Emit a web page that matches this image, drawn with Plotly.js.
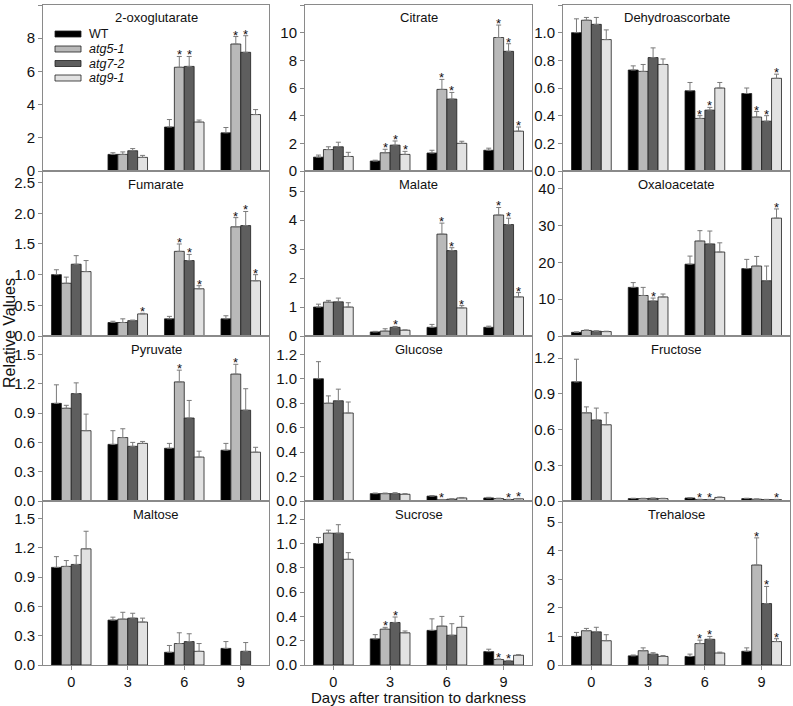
<!DOCTYPE html>
<html><head><meta charset="utf-8">
<script src="https://cdn.plot.ly/plotly-3.0.1.min.js"></script>
<style>html,body{margin:0;padding:0;background:#fff}#chart{width:793px;height:706px}</style>
</head><body><div id="chart"></div>
<script>
// ---- data (rows = genotypes WT, atg5-1, atg7-2, atg9-1; columns = days) ----
const days = [0, 3, 6, 9];
const genotypes = ['WT', 'atg5-1', 'atg7-2', 'atg9-1'];
const genotypeLabels = ['WT', '<i>atg5-1</i>', '<i>atg7-2</i>', '<i>atg9-1</i>'];
const dayLabels = ['0', '3', '6', '9'];

const oxoglutarateMean = [[null,1.0,2.65,2.3],[null,1.0,6.25,7.65],[null,1.22,6.3,7.15],[null,0.82,2.95,3.4]];
const oxoglutarateErr  = [[null,0.1,0.45,0.32],[null,0.15,0.65,0.45],[null,0.13,0.6,1.0],[null,0.12,0.12,0.3]];
const oxoglutarateSig  = [[0,0,0,0],[0,0,1,1],[0,0,1,1],[0,0,0,0]];

const citrateMean = [[1.0,0.72,1.3,1.5],[1.55,1.32,5.9,9.65],[1.75,1.87,5.2,8.65],[1.05,1.2,2.0,2.88]];
const citrateErr  = [[0.15,0.06,0.2,0.15],[0.2,0.25,0.72,0.9],[0.33,0.3,0.48,0.55],[0.3,0.22,0.15,0.3]];
const citrateSig  = [[0,0,0,0],[0,1,1,1],[0,1,1,1],[0,1,0,1]];

const dehydroascorbateMean = [[1.0,0.73,0.58,0.56],[1.09,0.72,0.38,0.39],[1.06,0.82,0.44,0.36],[0.95,0.77,0.60,0.67]];
const dehydroascorbateErr  = [[0.1,0.03,0.06,0.04],[0.02,0.05,0.02,0.04],[0.05,0.07,0.02,0.04],[0.07,0.04,0.04,0.03]];
const dehydroascorbateSig  = [[0,0,0,0],[0,0,1,1],[0,0,1,1],[0,0,0,1]];

const fumarateMean = [[1.0,0.22,0.28,0.28],[0.86,0.22,1.38,1.78],[1.17,0.25,1.23,1.8],[1.05,0.36,0.77,0.9]];
const fumarateErr  = [[0.08,0.02,0.04,0.05],[0.1,0.06,0.12,0.15],[0.14,0.01,0.1,0.23],[0.18,0.01,0.05,0.1]];
const fumarateSig  = [[0,0,0,0],[0,0,1,1],[0,0,1,1],[0,1,1,1]];

const malateMean = [[1.0,0.14,0.3,0.3],[1.17,0.17,3.52,4.18],[1.18,0.3,2.95,3.85],[1.0,0.2,0.97,1.35]];
const malateErr  = [[0.1,0.02,0.1,0.04],[0.06,0.08,0.38,0.26],[0.13,0.03,0.1,0.22],[0.15,0.01,0.08,0.15]];
const malateSig  = [[0,0,0,0],[0,0,1,1],[0,1,1,1],[0,0,1,1]];

const oxaloacetateMean = [[1.0,13.2,19.5,18.3],[1.5,11.0,25.8,19.0],[1.3,9.5,25.0,15.0],[1.2,10.6,22.8,32.0]];
const oxaloacetateErr  = [[0.1,1.3,2.2,2.5],[0.15,2.2,2.8,2.6],[0.1,0.8,3.5,4.0],[0.1,0.8,2.5,2.5]];
const oxaloacetateSig  = [[0,0,0,0],[0,0,0,0],[0,1,0,0],[0,0,0,1]];

const pyruvateMean = [[1.0,0.58,0.54,0.52],[0.95,0.65,1.22,1.3],[1.1,0.56,0.85,0.93],[0.72,0.59,0.45,0.5]];
const pyruvateErr  = [[0.19,0.14,0.05,0.07],[0.03,0.09,0.12,0.1],[0.11,0.04,0.18,0.22],[0.17,0.02,0.06,0.05]];
const pyruvateSig  = [[0,0,0,0],[0,0,1,1],[0,0,0,0],[0,0,0,0]];

const glucoseMean = [[1.0,0.06,0.04,0.025],[0.8,0.06,0.01,0.02],[0.82,0.06,0.015,0.012],[0.72,0.055,0.025,0.018]];
const glucoseErr  = [[0.14,0.005,0.005,0.005],[0.06,0.005,0.003,0.003],[0.095,0.008,0.003,0.002],[0.09,0.005,0.004,0.003]];
const glucoseSig  = [[0,0,0,0],[0,0,1,0],[0,0,0,1],[0,0,0,1]];

const fructoseMean = [[1.0,0.02,0.025,0.02],[0.74,0.02,0.012,0.015],[0.68,0.022,0.012,0.012],[0.64,0.02,0.03,0.012]];
const fructoseErr  = [[0.19,0.003,0.003,0.003],[0.05,0.003,0.003,0.002],[0.1,0.003,0.002,0.002],[0.1,0.003,0.004,0.002]];
const fructoseSig  = [[0,0,0,0],[0,0,1,0],[0,0,1,0],[0,0,0,1]];

const maltoseMean = [[1.0,0.46,0.13,0.17],[1.01,0.47,0.22,null],[1.03,0.48,0.24,0.14],[1.19,0.44,0.14,null]];
const maltoseErr  = [[0.11,0.03,0.07,0.07],[0.06,0.07,0.11,null],[0.09,0.05,0.08,0.09],[0.18,0.04,0.08,null]];
const maltoseSig  = [[0,0,0,0],[0,0,0,0],[0,0,0,0],[0,0,0,0]];

const sucroseMean = [[1.0,0.215,0.285,0.11],[1.085,0.295,0.32,0.045],[1.085,0.35,0.245,0.033],[0.87,0.265,0.31,0.08]];
const sucroseErr  = [[0.05,0.035,0.095,0.02],[0.025,0.015,0.08,0.005],[0.07,0.045,0.095,0.005],[0.055,0.015,0.09,0.005]];
const sucroseSig  = [[0,0,0,0],[0,1,0,1],[0,1,0,1],[0,0,0,0]];

const trehaloseMean = [[1.0,0.32,0.3,0.48],[1.2,0.5,0.75,3.5],[1.16,0.38,0.9,2.15],[0.85,0.3,0.42,0.82]];
const trehaloseErr  = [[0.14,0.03,0.08,0.12],[0.08,0.1,0.12,0.95],[0.16,0.05,0.1,0.6],[0.21,0.03,0.03,0.1]];
const trehaloseSig  = [[0,0,0,0],[0,0,1,1],[0,0,1,1],[0,0,0,1]];

// ---- panel setup (layout only) ----
const panels = [
  {title:'2-oxoglutarate', mean:oxoglutarateMean, err:oxoglutarateErr, sig:oxoglutarateSig, range:[0,10], dtick:2, fmt:'d'},
  {title:'Citrate', mean:citrateMean, err:citrateErr, sig:citrateSig, range:[0,12], dtick:2, fmt:'d'},
  {title:'Dehydroascorbate', mean:dehydroascorbateMean, err:dehydroascorbateErr, sig:dehydroascorbateSig, range:[0,1.2], dtick:0.2, fmt:'.1f'},
  {title:'Fumarate', mean:fumarateMean, err:fumarateErr, sig:fumarateSig, range:[0,2.69], dtick:0.5, fmt:'.1f'},
  {title:'Malate', mean:malateMean, err:malateErr, sig:malateSig, range:[0,5.7], dtick:1, fmt:'d'},
  {title:'Oxaloacetate', mean:oxaloacetateMean, err:oxaloacetateErr, sig:oxaloacetateSig, range:[0,44.8], dtick:10, fmt:'d'},
  {title:'Pyruvate', mean:pyruvateMean, err:pyruvateErr, sig:pyruvateSig, range:[0,1.69], dtick:0.3, fmt:'.1f'},
  {title:'Glucose', mean:glucoseMean, err:glucoseErr, sig:glucoseSig, range:[0,1.35], dtick:0.2, fmt:'.1f'},
  {title:'Fructose', mean:fructoseMean, err:fructoseErr, sig:fructoseSig, range:[0,1.385], dtick:0.3, fmt:'.1f'},
  {title:'Maltose', mean:maltoseMean, err:maltoseErr, sig:maltoseSig, range:[0,1.68], dtick:0.3, fmt:'.1f'},
  {title:'Sucrose', mean:sucroseMean, err:sucroseErr, sig:sucroseSig, range:[0,1.35], dtick:0.2, fmt:'.1f'},
  {title:'Trehalose', mean:trehaloseMean, err:trehaloseErr, sig:trehaloseSig, range:[0,5.74], dtick:1, fmt:'d'}
];

const W = 793, H = 706;
const colPx = [[43,269],[305,532],[563,790]];
const rowPx = [[5,171],[171,336],[336,501],[501,665]];
const colors = ['#000000','#b9b9b9','#5e5e5e','#e2e2e2'];
const FONT = 'Liberation Sans, Arial, sans-serif';
const axisGrey = '#8a8a8a';
const bargap = 0.3;
const barW = 3 * (1 - bargap) / genotypes.length;

const traces = [];
const layout = {
  width: W, height: H,
  margin: {l:0, r:0, t:0, b:0},
  paper_bgcolor: '#fff', plot_bgcolor: '#fff',
  barmode: 'group', bargap: bargap, bargroupgap: 0,
  showlegend: false,
  font: {family: FONT, color: '#111'},
  annotations: [], shapes: []
};

panels.forEach((p, i) => {
  const s = i === 0 ? '' : String(i + 1);
  const row = Math.floor(i / 3), col = i % 3;
  const xd = [colPx[col][0] / W, colPx[col][1] / W];
  const yd = [1 - rowPx[row][1] / H, 1 - rowPx[row][0] / H];
  const bottom = row === 3;
  layout['xaxis' + s] = {
    domain: xd, range: [-1.5, 10.5], anchor: 'y' + s,
    showline: true, mirror: true, linecolor: axisGrey, linewidth: 1,
    showgrid: false, zeroline: false,
    tickmode: 'array', tickvals: days, ticktext: dayLabels,
    showticklabels: bottom, ticks: bottom ? 'outside' : '', ticklen: 4, tickcolor: axisGrey,
    tickfont: {size: 14.5, family: FONT, color: '#111'}, fixedrange: true
  };
  layout['yaxis' + s] = {
    domain: yd, range: p.range, anchor: 'x' + s,
    showline: true, mirror: true, linecolor: axisGrey, linewidth: 1,
    showgrid: false, zeroline: false,
    tick0: 0, dtick: p.dtick, tickformat: p.fmt,
    ticks: 'outside', ticklen: 4, tickcolor: axisGrey,
    tickfont: {size: 15, family: FONT, color: '#111'}, fixedrange: true
  };
  genotypes.forEach((g, k) => {
    traces.push({
      type: 'bar', name: g, x: days, y: p.mean[k],
      xaxis: 'x' + s, yaxis: 'y' + s, showlegend: false, hoverinfo: 'skip',
      marker: {color: colors[k], line: {color: '#1e1e1e', width: 0.8}},
      error_y: {type: 'data', symmetric: false, array: p.err[k],
                arrayminus: p.err[k].map(v => 0), color: '#7a7a7a', thickness: 1, width: 2.5}
    });
    p.sig[k].forEach((flag, d) => {
      if (flag && p.mean[k][d] != null) {
        layout.annotations.push({
          xref: 'x' + s, yref: 'y' + s,
          x: days[d] + (k - 1.5) * barW, y: p.mean[k][d] + (p.err[k][d] || 0),
          text: '*', showarrow: false, yanchor: 'bottom', yshift: -8,
          font: {size: 13, family: FONT, color: '#111'}
        });
      }
    });
  });
  layout.annotations.push({
    xref: 'x' + s + ' domain', yref: 'y' + s + ' domain', x: 0.5, y: 1,
    text: p.title, showarrow: false, xanchor: 'center', yanchor: 'middle', yshift: -13,
    font: {size: 13, family: FONT, color: '#111'}
  });
});

// legend in first panel
const legendY = [34, 49, 63.5, 78];
genotypeLabels.forEach((lab, k) => {
  layout.shapes.push({
    type: 'rect', xref: 'paper', yref: 'paper',
    x0: 55 / W, x1: 81 / W, y0: 1 - (legendY[k] + 3) / H, y1: 1 - (legendY[k] - 3) / H,
    fillcolor: colors[k], line: {color: '#1e1e1e', width: 0.8}
  });
  layout.annotations.push({
    xref: 'paper', yref: 'paper', x: 87 / W, y: 1 - legendY[k] / H,
    text: lab, showarrow: false, xanchor: 'left', yanchor: 'middle',
    font: {size: 12.5, family: FONT, color: '#111'}
  });
});

// axis titles
layout.annotations.push({
  xref: 'paper', yref: 'paper', x: 418 / W, y: 1 - 697 / H,
  text: 'Days after transition to darkness', showarrow: false,
  xanchor: 'center', yanchor: 'middle', font: {size: 15, family: FONT, color: '#111'}
});
layout.annotations.push({
  xref: 'paper', yref: 'paper', x: 10 / W, y: 1 - 333 / H,
  text: 'Relative Values', showarrow: false, textangle: -90,
  xanchor: 'center', yanchor: 'middle', font: {size: 16, family: FONT, color: '#111'}
});

Plotly.newPlot('chart', traces, layout, {staticPlot: true, displayModeBar: false});
</script>
</body></html>
